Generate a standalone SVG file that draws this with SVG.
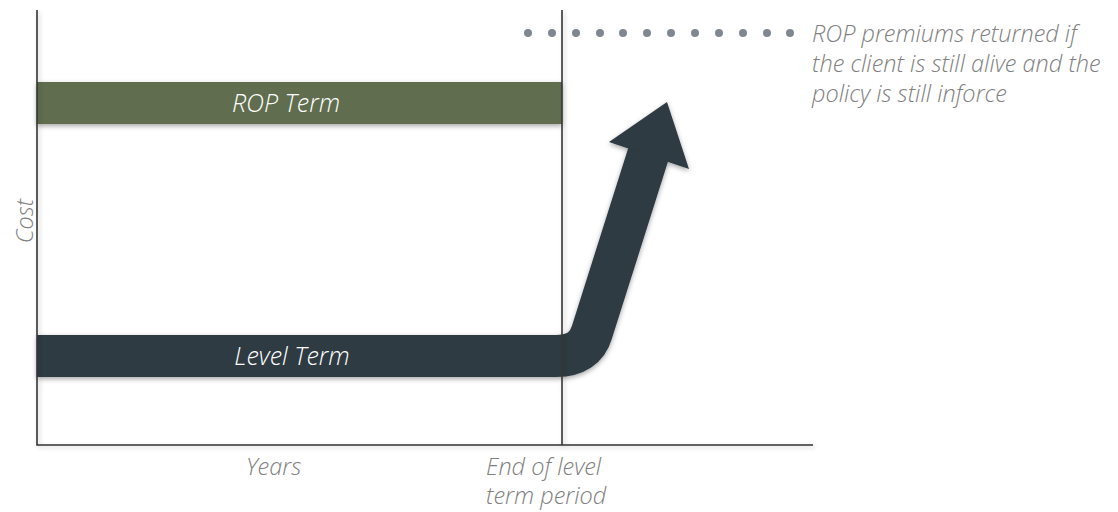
<svg xmlns="http://www.w3.org/2000/svg" width="1118" height="512" viewBox="0 0 1118 512">
  <defs>
    <filter id="shadow" x="-10%" y="-30%" width="120%" height="170%">
      <feDropShadow dx="0" dy="2" stdDeviation="2.5" flood-color="#000" flood-opacity="0.35"/>
    </filter>
    <filter id="lineShadow" x="-50%" y="-5%" width="200%" height="110%">
      <feDropShadow dx="2" dy="2" stdDeviation="2" flood-color="#000" flood-opacity="0.2"/>
    </filter>
  </defs>
  <style>
    .axis { stroke: #333; stroke-width: 1.6; fill: none; }
    .barText { font-family: "Open Sans", "Liberation Sans", sans-serif; font-style: italic; font-weight: 300; font-size: 25px; fill: #ffffff; text-anchor: middle; }
    .label { font-family: "Open Sans", "Liberation Sans", sans-serif; font-style: italic; font-weight: 300; font-size: 23.5px; fill: #808080; }
    .dot { fill: #7f8890; }
  </style>

  <rect width="1118" height="512" fill="#ffffff"/>

  <!-- ROP term bar -->
  <g id="rop-term">
    <rect x="37" y="82" width="525" height="42" fill="#606e50" filter="url(#shadow)"/>
    <text class="barText" x="286" y="112">ROP Term</text>
  </g>

  <!-- level term bar that bends up into the arrow -->
  <g id="level-term" filter="url(#shadow)">
    <path d="M37,356 L556,356 Q585,356 592,332 L649,152" fill="none" stroke="#2e3a42" stroke-width="42"/>
    <polygon points="667,102 689,169 609,142" fill="#2e3a42"/>
  </g>
  <g id="level-term-label">
    <text class="barText" x="292" y="365">Level Term</text>
  </g>

  <!-- axes and period marker, drawn over the bars -->
  <g id="axes" filter="url(#lineShadow)">
    <path class="axis" d="M37,10 V445 H813"/>
    <path class="axis" d="M562,10 V445"/>
  </g>

  <!-- dotted leader to the note -->
  <g id="connectors">
    <circle class="dot" cx="528" cy="33" r="4"/>
    <circle class="dot" cx="552" cy="33" r="4"/>
    <circle class="dot" cx="576" cy="33" r="4"/>
    <circle class="dot" cx="600" cy="33" r="4"/>
    <circle class="dot" cx="623" cy="33" r="4"/>
    <circle class="dot" cx="647" cy="33" r="4"/>
    <circle class="dot" cx="671" cy="33" r="4"/>
    <circle class="dot" cx="695" cy="33" r="4"/>
    <circle class="dot" cx="719" cy="33" r="4"/>
    <circle class="dot" cx="743" cy="33" r="4"/>
    <circle class="dot" cx="767" cy="33" r="4"/>
    <circle class="dot" cx="790" cy="33" r="4"/>
  </g>

  <g id="note">
    <text class="label" x="812" y="42">ROP premiums returned if</text>
    <text class="label" x="812" y="72">the client is still alive and the</text>
    <text class="label" x="812" y="102">policy is still inforce</text>
  </g>

  <g id="axis-labels">
    <text class="label" transform="translate(33,221) rotate(-90)" text-anchor="middle" font-size="25">Cost</text>
    <text class="label" x="246" y="475">Years</text>
    <text class="label" x="486" y="475">End of level</text>
    <text class="label" x="486" y="504">term period</text>
  </g>
</svg>
